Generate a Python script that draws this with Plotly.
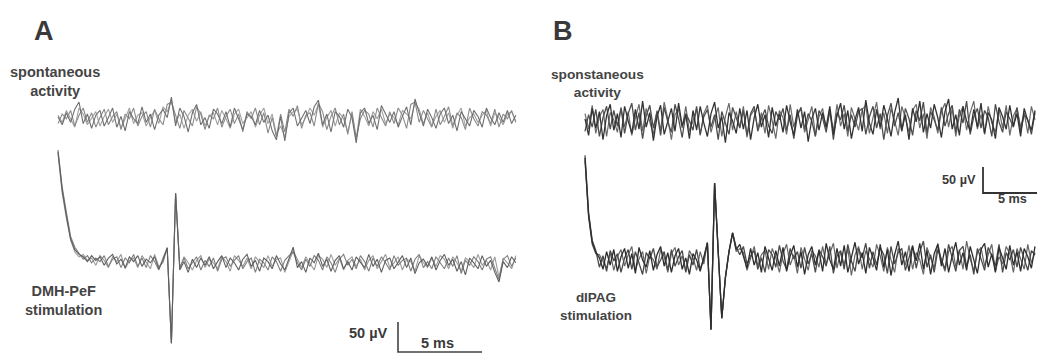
import plotly.graph_objects as go

# ---------------- data (µV), sampled on a uniform time grid ----------------
DT_A = 0.25  # ms
DT_B = 0.30  # ms

spont_A_1 = [5, -8, 12, -4, 18, 30, -6, 10, -14, 8,
             16, -10, 4, 20, -12, 6, -18, 14, 2, -6,
             22, -4, 10, -16, 8, 18, 4, 38, -10, 20,
             6, -20, 12, 26, -8, 4, -14, 18, 10, -6,
             14, -12, 20, 2, -16, 10, 6, -8, 16, -4,
             8, -18, -33, 6, -35, 12, 20, -10, 4, 16,
             -6, 22, 33, -8, 10, -20, 14, 6, -12, 18,
             4, -38, 12, 20, -6, 8, -16, 24, 10, -4,
             14, -12, 6, 22, -8, 35, 12, -10, 18, 4,
             -14, 10, 20, -6, 8, -18, 14, 2, -10, 16,
             6, -12, 20, 4, -8, 12, -4, 16, -6, 8]
spont_A_2 = [-6, 10, 2, 16, -10, 8, 20, -4, 12, -12,
             4, 18, -8, 6, 14, -16, 10, 2, 20, -10,
             6, 14, -12, 18, 2, -8, 26, 30, 8, -14,
             16, 4, -10, 22, 10, -16, 8, 2, 20, -12,
             6, 18, -6, 10, -20, 14, 2, 20, -8, 12,
             -22, 4, -28, 10, -20, 18, 6, 24, -14, 8,
             12, -10, 28, 14, -16, 6, 20, -8, 10, -24,
             14, -30, 2, 16, 10, -12, 20, 4, -10, 14,
             -6, 20, 8, -14, 26, 30, -4, 16, 2, -12,
             18, -8, 6, 22, -10, 12, 4, -16, 20, 2,
             -10, 14, 8, -6, 18, -12, 10, 2, 16, -4]
spont_A_3 = [8, -4, 16, 2, -12, 20, 10, -8, 4, 14,
             -10, 6, 18, -4, 10, -14, 2, 20, -6, 8,
             12, -10, 4, 16, -6, 22, 14, 32, -4, 10,
             -14, 8, 18, -2, 14, -10, 6, 12, -8, 16,
             2, -14, 10, 18, -6, 4, 14, -12, 8, 20,
             -6, 10, -24, -10, -28, 6, 14, 18, -8, 4,
             20, 8, 26, -12, 4, 16, -10, 12, 2, -20,
             10, -32, 18, 6, -10, 14, 2, 18, -6, 10,
             4, -8, 16, 10, 2, 28, 18, -6, 12, -10,
             6, 16, -4, 12, -14, 8, 20, -10, 4, 10,
             -4, 8, 16, -10, 12, 4, -8, 10, 14, -2]
stim_A_1 = [187, 123, 80, 42, 24, 16, 12, 4, 14, 6,
            12, -2, 10, 16, 0, 8, -6, 12, 4, 14,
            -4, 8, 2, 12, -8, 6, 27, -132, 118, -10,
            4, -14, 8, -6, 10, -2, 12, -8, 4, 14,
            -6, 10, 2, -10, 8, 16, -4, 6, -12, 10,
            4, -8, 14, 0, -10, 8, 28, -6, 4, -14,
            10, 2, 18, -4, 8, -12, 6, 14, -8, 4,
            -10, 12, 2, -6, 16, -4, 8, -14, 6, 10,
            -8, 4, 14, -6, 10, -16, 2, 8, -4, 12,
            -10, 6, 16, -2, 8, -12, 4, -18, 10, 2,
            -8, 14, -4, 6, -14, -30, 4, -6, 12, 2]
stim_A_2 = [190, 128, 86, 46, 28, 18, 8, 14, 2, 10,
            4, 14, -4, 8, 12, -6, 10, 2, 16, -4,
            10, -6, 14, 4, -10, 10, 27, -132, 118, -6,
            10, -8, 2, 12, -10, 6, -4, 10, -12, 8,
            12, -4, 6, 14, -8, 4, 10, -14, 8, 2,
            -10, 12, 4, -12, 6, 14, 20, 2, -10, 8,
            -4, 14, 6, -10, 12, 2, -14, 8, 16, -2,
            8, -8, 14, 4, -12, 10, -4, 12, 2, -10,
            14, -2, 6, 10, -12, 8, 16, -6, 4, -8,
            12, 2, -8, 10, -4, 14, -16, 6, -2, 12,
            4, -10, 8, 12, -6, -26, 8, 14, -4, 10]
stim_A_3 = [184, 118, 76, 40, 20, 12, 16, 6, 10, -2,
            14, 6, -6, 12, 4, 16, -8, 6, 10, -6,
            14, 2, -8, 16, -4, 2, 27, -132, 118, -8,
            12, 2, -10, 6, 14, -6, 8, 2, -8, 12,
            4, -12, 14, 6, -4, 10, -8, 12, 2, -6,
            14, -4, 8, 10, -14, 4, 22, 8, -6, 12,
            2, -10, 14, 8, -6, 16, -2, 10, -10, 6,
            12, -4, 8, -10, 6, 14, -8, 4, 16, -6,
            2, 12, -10, 8, 4, -12, 14, 2, -6, 10,
            -4, 14, 8, -8, 12, 2, -12, 10, 4, -6,
            16, -2, 6, -10, 12, -22, 10, 2, -8, 14]

spont_B_1 = [10, -22, 30, -8, 24, -30, 16, 38, -12, 20,
             -26, 34, 6, -18, 28, -10, 44, -6, 22, -32,
             14, 36, -20, 8, 30, -14, 40, -4, 18, -28,
             26, -12, 34, 2, -24, 20, 42, -8, 14, -36,
             22, 6, -18, 30, -10, 26, -30, 12, 38, -6,
             18, -26, 32, -4, 20, -16, 36, 4, -22, 28,
             -8, 24, -34, 10, 30, -12, 22, -6, 34, -20,
             16, 40, -10, 26, -28, 8, 32, -14, 46, 2,
             -20, 28, -6, 36, 10, -24, 22, 50, -12, 18,
             -30, 30, 4, 44, -16, 20, -8, 38, 12, -26,
             24, 48, -10, 18, -22, 34, 6, -14, 28, -6,
             40, -18, 22, 8, -28, 32, 14, -10, 36, -4,
             20, -24, 30, 6, -12, 26]
spont_B_2 = [-14, 18, -6, 28, -24, 12, 34, -10, 26, -4,
             30, -18, 20, 40, -12, 22, -28, 16, 36, -8,
             24, -22, 32, 4, -16, 38, 10, -26, 20, 6,
             -12, 34, -20, 14, 28, -6, 18, -30, 24, 2,
             -20, 32, 12, -8, 26, -22, 20, 34, -14, 10,
             28, -4, -18, 24, 8, 30, -12, 18, -28, 16,
             32, -10, 20, 6, -24, 26, 12, -16, 28, -30,
             22, 8, 36, -14, 18, -6, 24, 30, -20, 14,
             34, -8, 20, -30, 16, 40, -4, 22, -14, 30,
             10, -22, 26, 6, 42, -18, 24, 8, -12, 32,
             -4, 20, 36, -16, 28, 2, 44, -20, 14, 30,
             -8, 26, 12, -24, 38, 4, -16, 24, 10, -6,
             32, -14, 18, 8, -20, 22]
spont_B_3 = [20, -10, 36, -18, 14, 28, -24, 22, 8, -16,
             32, -6, 24, -22, 12, 38, -14, 30, 4, -20,
             26, -12, 42, 10, -30, 18, 28, -8, 34, -14,
             6, 30, -22, 20, 36, -16, 10, 32, -24, 14,
             40, -12, 24, -6, 34, -26, 16, 28, -10, 22,
             -18, 36, 6, -28, 26, 12, -20, 38, -6, 20,
             28, -16, 8, 34, -22, 14, 30, -10, 24, -14,
             38, -4, 20, -24, 32, 10, -12, 28, 36, -18,
             14, 42, -10, 22, -18, 30, 6, -22, 34, 12,
             -16, 26, 38, -8, 20, -28, 32, 14, -18, 24,
             40, -6, 30, -24, 16, 34, -12, 22, 44, -10,
             18, -20, 34, 2, -16, 28, -8, 36, -22, 16,
             30, -6, 22, -18, 34, 8]
stim_B_1 = [200, 90, 38, 19, 8, -14, 20, -6, 24, -18,
            10, 26, -12, 16, -22, 28, 4, -10, 22, -16,
            14, 30, -8, 18, -20, 12, 26, -14, 8, -24,
            16, 4, -18, 10, 37, -130, 152, 20, -108, -30,
            20, 56, 24, 34, 10, -12, 26, -6, 18, -20,
            30, 6, -16, 22, -8, 28, -18, 12, 32, -10,
            20, -24, 14, 30, -6, 22, -18, 36, 4, -14,
            26, -8, 32, -20, 10, 38, -4, 18, -22, 28,
            8, -16, 34, -10, 24, -26, 14, 40, -6, 20,
            -18, 30, 2, 36, -14, 22, -24, 16, 34, -8,
            26, -20, 12, 38, -6, 18, -16, 30, 4, -22,
            24, 36, -10, 16, -20, 28, 8, -14, 32, -6,
            20, -18, 26, 10, -12, 30]
stim_B_2 = [205, 95, 42, 22, -10, 12, -18, 22, 2, 16,
            -20, 8, 24, -14, 20, -4, -24, 18, 6, 26,
            -10, 4, 20, -16, 24, -8, 10, 22, -20, 14,
            -6, 24, -14, 6, 37, -130, 152, 20, -108, -30,
            20, 56, 28, 14, 30, -4, 12, 22, -14, 8,
            -20, 24, 14, -10, 32, 2, -14, 26, 6, 20,
            -12, 28, -4, 16, -20, 24, 10, -8, 30, -22,
            12, 22, -14, 34, 2, -18, 26, 8, 36, -12,
            20, -6, 28, 14, -22, 30, -4, 18, 26, -16,
            10, 32, -12, 20, 40, -10, 14, -20, 24, 6,
            -14, 34, 8, -18, 22, 30, -8, 14, -24, 26,
            6, -16, 28, 12, -8, 34, -20, 18, 4, 24,
            -10, 28, 6, -16, 22, 14]
stim_B_3 = [195, 86, 34, 16, 14, 2, -12, 18, -16, 10,
            24, -8, 14, 30, -16, 6, 20, -22, 12, 4,
            -14, 24, 10, -20, 16, 28, -6, 12, -18, 22,
            8, -16, 20, -4, 37, -130, 152, 20, -108, -30,
            20, 56, 20, 26, 18, -16, 6, 30, -8, 14,
            22, -14, 26, 8, -20, 16, 34, -6, 14, -22,
            28, 4, -16, 22, 12, -10, 30, -4, 18, 36,
            -12, 20, -6, 26, -26, 14, 30, -14, 22, 6,
            -10, 34, 12, -18, 28, 4, -20, 26, 14, -6,
            32, -14, 18, 4, -24, 28, 10, -12, 36, 2,
            -18, 20, 30, -10, 24, -14, 40, 6, -16, 18,
            28, -8, 14, 34, -18, 10, -4, 30, 16, -20,
            26, 6, -14, 34, -2, 18]

SCALE_MS = 5
SCALE_UV = 50

# ---------------- layout constants ----------------
W, H = 1037, 354
# panel A: 16.8 px/ms, 0.6 px/uV ; panel B: 12 px/ms, 0.52 px/uV
A_X0, A_PXMS, A_Y0, A_PXUV = 58, 16.8, 120, 0.6
B_X0, B_PXMS, B_Y0, B_PXUV = 585, 12.0, 124, 0.52
A_STIM_OFF = -(264 - A_Y0) / A_PXUV
B_STIM_OFF = -(262 - B_Y0) / B_PXUV

fig = go.Figure()


def add(vals, dt, off, color, xa, ya, width=1.1):
    fig.add_trace(go.Scatter(
        y=[v + off for v in vals], x0=0, dx=dt, mode="lines",
        line=dict(color=color, width=width), xaxis=xa, yaxis=ya,
        showlegend=False, hoverinfo="skip"))


add(spont_A_3, DT_A, 0, "#a0a0a0", "x", "y")
add(spont_A_2, DT_A, 0, "#8a8a8a", "x", "y")
add(spont_A_1, DT_A, 0, "#6e6e6e", "x", "y")
add(stim_A_3, DT_A, A_STIM_OFF, "#9a9a9a", "x", "y")
add(stim_A_2, DT_A, A_STIM_OFF, "#7e7e7e", "x", "y")
add(stim_A_1, DT_A, A_STIM_OFF, "#5e5e5e", "x", "y")

add(spont_B_3, DT_B, 0, "#6a6a6a", "x2", "y2", 1.2)
add(spont_B_2, DT_B, 0, "#4e4e4e", "x2", "y2", 1.3)
add(spont_B_1, DT_B, 0, "#333333", "x2", "y2", 1.3)
add(stim_B_3, DT_B, B_STIM_OFF, "#666666", "x2", "y2", 1.2)
add(stim_B_2, DT_B, B_STIM_OFF, "#4a4a4a", "x2", "y2", 1.3)
add(stim_B_1, DT_B, B_STIM_OFF, "#2e2e2e", "x2", "y2", 1.3)

# scale bars
a_t = (398 - A_X0) / A_PXMS
a_v = (A_Y0 - 352) / A_PXUV
fig.add_trace(go.Scatter(x=[a_t, a_t, a_t + SCALE_MS], y=[a_v + SCALE_UV, a_v, a_v],
                         mode="lines", line=dict(color="#444444", width=1.6),
                         xaxis="x", yaxis="y", showlegend=False, hoverinfo="skip"))
b_t = (983 - B_X0) / B_PXMS
b_v = (B_Y0 - 193) / B_PXUV
fig.add_trace(go.Scatter(x=[b_t, b_t, b_t + SCALE_MS], y=[b_v + SCALE_UV, b_v, b_v],
                         mode="lines", line=dict(color="#333333", width=1.8),
                         xaxis="x2", yaxis="y2", showlegend=False, hoverinfo="skip"))

ax = dict(visible=False, showgrid=False, zeroline=False, fixedrange=True)
fig.update_layout(
    width=W, height=H, margin=dict(l=0, r=0, t=0, b=0),
    paper_bgcolor="white", plot_bgcolor="white",
    xaxis=dict(ax, domain=[0, 0.5], range=[-A_X0 / A_PXMS, (W / 2 - A_X0) / A_PXMS]),
    yaxis=dict(ax, domain=[0, 1], range=[(A_Y0 - H) / A_PXUV, A_Y0 / A_PXUV]),
    xaxis2=dict(ax, domain=[0.5, 1], range=[(W / 2 - B_X0) / B_PXMS, (W - B_X0) / B_PXMS]),
    yaxis2=dict(ax, domain=[0, 1], range=[(B_Y0 - H) / B_PXUV, B_Y0 / B_PXUV]),
)


def label(text, px, py, size=14.5, xanchor="center", color="#3a3a3a"):
    fig.add_annotation(
        text=f"<b>{text}</b>", x=px / W, y=1 - py / H,
        xref="paper", yref="paper", xanchor=xanchor, yanchor="middle",
        showarrow=False, align="center",
        font=dict(family="Liberation Sans, Arial", size=size, color=color))


label("A", 44, 31, size=27)
label("B", 563, 31, size=27)
label("spontaneous<br>activity", 55, 82, size=14.5, color="#444444")
label("sponstaneous<br>activity", 597, 83, size=13.7, color="#444444")
label("DMH-PeF<br>stimulation", 63, 300, size=14.5, color="#444444")
label("dIPAG<br>stimulation", 596, 306, size=13.5, color="#444444")
label("50 µV", 390, 333, size=14.5, xanchor="right")
label("5 ms", 437, 343, size=14.5)
label("50 µV", 978, 180, size=12.7, xanchor="right")
label("5 ms", 1012, 199, size=12.7)

fig.write_html("out.html")
